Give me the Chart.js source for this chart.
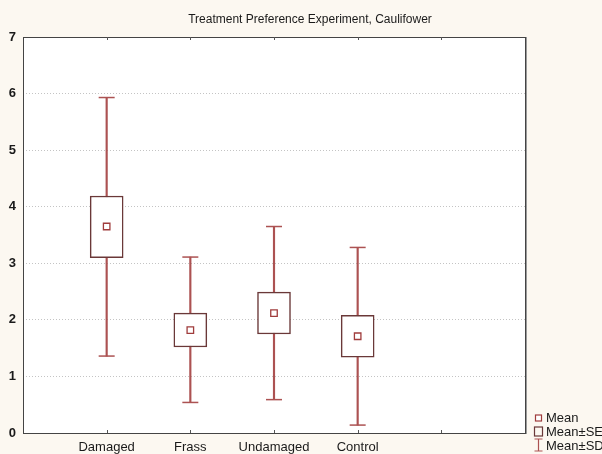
<!DOCTYPE html>
<html>
<head>
<meta charset="utf-8">
<script src="https://cdn.jsdelivr.net/npm/chart.js@4.4.1/dist/chart.umd.min.js"></script>
<style>
  html, body { margin: 0; padding: 0; background: #fcf8f1; }
  #wrap { width: 602px; height: 454px; }
  canvas { display: block; }
</style>
</head>
<body>
<div id="wrap"><canvas id="c" width="602" height="454"></canvas></div>
<script>
// Treatment groups along the x axis (positions 1..4)
const categories = ['Damaged', 'Frass', 'Undamaged', 'Control'];
// Group means
const means = [3.65, 1.82, 2.12, 1.71];
// Mean ± standard error
const seLow  = [3.10, 1.52, 1.75, 1.34];
const seHigh = [4.19, 2.12, 2.49, 2.08];
// Mean ± standard deviation
const sdLow  = [1.36, 0.54, 0.59, 0.14];
const sdHigh = [5.93, 3.11, 3.65, 3.28];
// Y axis tick values
const yTicks = [0, 1, 2, 3, 4, 5, 6, 7];

const FONT = '"Liberation Sans", Arial, Helvetica, sans-serif';
const WHISKER = '#ac5252';
const BOXLINE = '#6a3838';
const MEANCOL = '#a03c3c';

const pos = categories.map((_, i) => i + 1);

// Chart area background, frame, inner tick marks and the key
const framePlugin = {
  id: 'frame',
  beforeDraw(chart) {
    const a = chart.chartArea, ctx = chart.ctx;
    ctx.save();
    ctx.fillStyle = '#ffffff';
    ctx.fillRect(a.left, a.top, a.right - a.left, a.bottom - a.top);
    ctx.restore();
  },
  afterDraw(chart) {
    const a = chart.chartArea, ctx = chart.ctx, xs = chart.scales.x;
    ctx.save();
    // soft shadow on the right edge
    ctx.strokeStyle = '#9a9a9a';
    ctx.lineWidth = 1;
    ctx.beginPath();
    ctx.moveTo(Math.round(a.right) + 1.5, a.top);
    ctx.lineTo(Math.round(a.right) + 1.5, a.bottom + 1);
    ctx.stroke();
    // frame
    ctx.strokeStyle = '#444444';
    ctx.lineWidth = 1;
    ctx.strokeRect(Math.round(a.left) + 0.5, Math.round(a.top) + 0.5,
                   Math.round(a.right - a.left), Math.round(a.bottom - a.top));
    // inward tick marks on top and bottom edges
    ctx.strokeStyle = '#555555';
    ctx.beginPath();
    for (let v = 1; v <= 5; v++) {
      const px = Math.round(xs.getPixelForValue(v)) + 0.5;
      ctx.moveTo(px, a.top); ctx.lineTo(px, a.top + 3);
      ctx.moveTo(px, a.bottom); ctx.lineTo(px, a.bottom - 3);
    }
    ctx.stroke();

    // key
    const kx = 538.5;
    ctx.lineWidth = 1.2;
    ctx.strokeStyle = MEANCOL;
    ctx.fillStyle = '#ffffff';
    ctx.fillRect(kx - 3, 415, 6, 6);
    ctx.strokeRect(kx - 3, 415, 6, 6);
    ctx.strokeStyle = BOXLINE;
    ctx.strokeRect(kx - 4, 427, 8, 9);
    ctx.strokeStyle = WHISKER;
    ctx.beginPath();
    ctx.moveTo(kx, 439); ctx.lineTo(kx, 451);
    ctx.moveTo(kx - 4, 439); ctx.lineTo(kx + 4, 439);
    ctx.moveTo(kx - 4, 451); ctx.lineTo(kx + 4, 451);
    ctx.stroke();
    ctx.fillStyle = '#1a1a1a';
    ctx.font = '13px ' + FONT;
    ctx.textBaseline = 'middle';
    ctx.textAlign = 'left';
    ctx.fillText('Mean', 546, 418);
    ctx.fillText('Mean±SE', 546, 432);
    ctx.fillText('Mean±SD', 546, 446);
    ctx.restore();
  }
};

new Chart(document.getElementById('c'), {
  data: {
    datasets: [
      {
        type: 'bar',
        label: 'Mean±SD',
        data: pos.map((x, i) => ({ x: x, y: [sdLow[i], sdHigh[i]] })),
        backgroundColor: WHISKER,
        borderWidth: 0,
        barThickness: 1.5,
        grouped: false,
        order: 4
      },
      {
        type: 'scatter',
        label: 'caps',
        data: pos.flatMap((x, i) => [{ x: x, y: sdLow[i] }, { x: x, y: sdHigh[i] }]),
        pointStyle: 'line',
        pointRadius: 8,
        borderColor: WHISKER,
        borderWidth: 1.5,
        order: 3
      },
      {
        type: 'bar',
        label: 'Mean±SE',
        data: pos.map((x, i) => ({ x: x, y: [seLow[i], seHigh[i]] })),
        backgroundColor: '#ffffff',
        borderColor: BOXLINE,
        borderWidth: 1.5,
        borderSkipped: false,
        barThickness: 33,
        grouped: false,
        order: 2
      },
      {
        type: 'scatter',
        label: 'Mean',
        data: pos.map((x, i) => ({ x: x, y: means[i] })),
        pointStyle: 'rect',
        pointRadius: 4.6,
        backgroundColor: '#ffffff',
        borderColor: MEANCOL,
        borderWidth: 1.3,
        order: 1
      }
    ]
  },
  options: {
    responsive: false,
    animation: false,
    events: [],
    // negative right padding widens the title band so it centres over the plot + key
    layout: { padding: { left: 0, right: -18, top: 0, bottom: 0 } },
    plugins: {
      legend: { display: false },
      tooltip: { enabled: false },
      title: {
        display: true,
        text: 'Treatment Preference Experiment, Caulifower',
        color: '#1a1a1a',
        font: { family: FONT, size: 12, weight: 'normal' },
        padding: { top: 12, bottom: 10.6 }
      }
    },
    scales: {
      x: {
        type: 'linear',
        position: 'bottom',
        min: 0,
        max: 6,
        offset: false,
        afterBuildTicks(scale) {
          scale.ticks = pos.map(v => ({ value: v }));
        },
        ticks: {
          autoSkip: false,
          maxRotation: 0,
          padding: 7,
          color: '#1a1a1a',
          font: { family: FONT, size: 13 },
          callback: (v) => categories[v - 1] || ''
        },
        grid: { display: false, drawTicks: false, offset: false },
        border: { display: false },
        afterFit(scale) { scale.height = 21; }
      },
      y: {
        type: 'linear',
        position: 'left',
        min: 0,
        max: 7,
        afterBuildTicks(scale) {
          scale.ticks = yTicks.map(v => ({ value: v }));
        },
        ticks: {
          padding: 7,
          color: '#1a1a1a',
          font: { family: FONT, size: 13, weight: 'bold' }
        },
        grid: { color: '#c4c4c4', lineWidth: 1, drawTicks: false },
        border: { display: false, dash: [1, 2] },
        afterFit(scale) { scale.width = 23; }
      },
      keyArea: {
        type: 'linear',
        position: 'right',
        display: true,
        ticks: { display: false },
        grid: { display: false, drawTicks: false },
        border: { display: false },
        afterFit(scale) { scale.width = 95; }
      }
    }
  },
  plugins: [framePlugin]
});
</script>
</body>
</html>
